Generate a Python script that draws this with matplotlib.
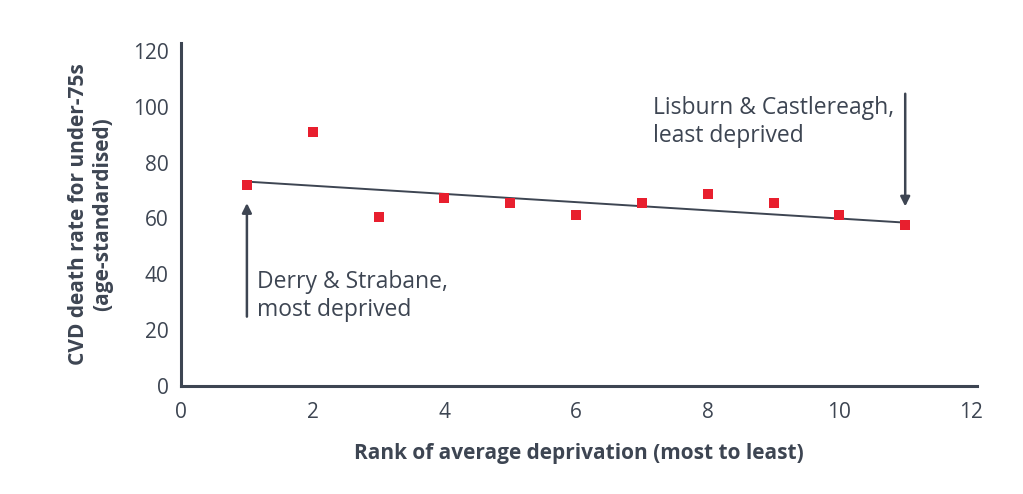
#!/usr/bin/env python3

import matplotlib
matplotlib.use("Agg")
import matplotlib.pyplot as plt

plt.rcParams["font.family"] = ["Open Sans", "DejaVu Sans"]
plt.rcParams["font.size"] = 15

TEXT_COLOR = "#3d4552"
POINT_COLOR = "#e81f2e"

# Daten
rank = [1, 2, 3, 4, 5, 6, 7, 8, 9, 10, 11]
cvd_rate = [72.0, 91.0, 60.6, 67.3, 65.7, 61.4, 65.7, 68.9, 65.7, 61.4, 57.6]

# Trendlinie: Endpunkte
trend_x = [1, 11]
trend_y = [73.2, 58.5]

xticks = [0, 2, 4, 6, 8, 10, 12]
yticks = [0, 20, 40, 60, 80, 100, 120]

fig = plt.figure(figsize=(10.23, 4.94), dpi=100)
ax = fig.add_axes([0.177, 0.219, 0.778, 0.694])

ax.plot(trend_x, trend_y, color=TEXT_COLOR, linewidth=1.4, zorder=2)
ax.plot(rank, cvd_rate, "s", color=POINT_COLOR, markersize=7.2,
        markeredgewidth=0, zorder=3)

ax.set_xlim(0, 12.09)
ax.set_ylim(0, 122.9)
ax.set_xticks(xticks)
ax.set_yticks(yticks)

for side in ["top", "right"]:
    ax.spines[side].set_visible(False)
for side in ["left", "bottom"]:
    ax.spines[side].set_color(TEXT_COLOR)
    ax.spines[side].set_linewidth(2.2)

ax.tick_params(axis="both", length=0, colors=TEXT_COLOR, labelsize=15)
ax.tick_params(axis="x", pad=12)
ax.tick_params(axis="y", pad=9)

ax.set_xlabel("Rank of average deprivation (most to least)",
              fontsize=15, fontweight="bold", color=TEXT_COLOR, labelpad=14)
ax.set_ylabel("CVD death rate for under-75s\n(age-standardised)",
              fontsize=15, fontweight="bold", color=TEXT_COLOR, labelpad=14,
              linespacing=1.2)

# Pfeile und Beschriftungen
ax.annotate("", xy=(rank[0], 65.5), xytext=(rank[0], 24.8),
            arrowprops=dict(arrowstyle="-|>", color=TEXT_COLOR, lw=1.8,
                            mutation_scale=14, shrinkA=0, shrinkB=0))
ax.text(1.15, 41.5, "Derry & Strabane,\nmost deprived", ha="left", va="top",
        fontsize=16.5, color=TEXT_COLOR, linespacing=1.2)

ax.annotate("", xy=(rank[-1], 64.3), xytext=(rank[-1], 104.7),
            arrowprops=dict(arrowstyle="-|>", color=TEXT_COLOR, lw=1.8,
                            mutation_scale=14, shrinkA=0, shrinkB=0))
ax.text(7.17, 103.8, "Lisburn & Castlereagh,\nleast deprived", ha="left",
        va="top", fontsize=16.5, color=TEXT_COLOR, linespacing=1.2)

fig.savefig("out.png", dpi=100)
plt.close(fig)
